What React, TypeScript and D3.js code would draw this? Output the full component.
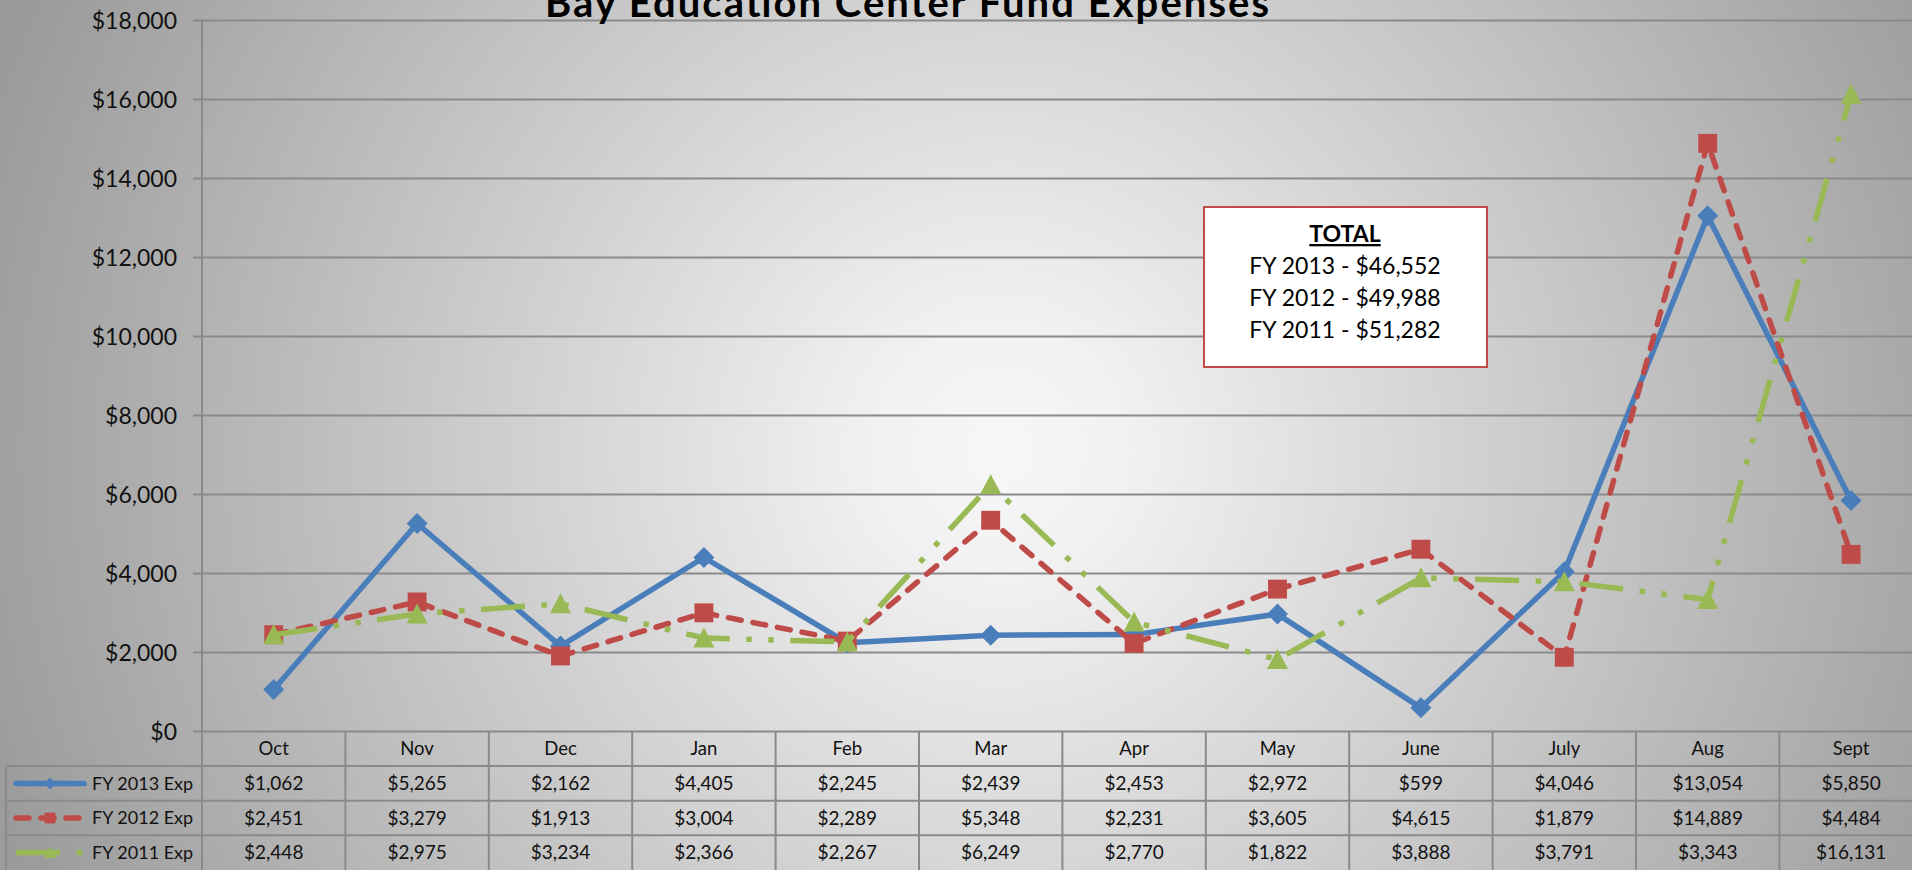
import React from 'react';
import * as d3 from 'd3';

// chart values
const months = ['Oct', 'Nov', 'Dec', 'Jan', 'Feb', 'Mar', 'Apr', 'May', 'June', 'July', 'Aug', 'Sept'];
const fy2013 = [1062, 5265, 2162, 4405, 2245, 2439, 2453, 2972, 599, 4046, 13054, 5850];
const fy2012 = [2451, 3279, 1913, 3004, 2289, 5348, 2231, 3605, 4615, 1879, 14889, 4484];
const fy2011 = [2448, 2975, 3234, 2366, 2267, 6249, 2770, 1822, 3888, 3791, 3343, 16131];
const yTicks = [0, 2000, 4000, 6000, 8000, 10000, 12000, 14000, 16000, 18000];
const totals = ['FY 2013 - $46,552', 'FY 2012 - $49,988', 'FY 2011 - $51,282'];

const title = 'Bay Education Center Fund Expenses';

const W = 1912;
const H = 870;
const font = 'Lato, "Open Sans", sans-serif';
const gridColor = '#8a8a8a';

type Marker = 'diamond' | 'square' | 'triangle';

const series = [
  { name: 'FY 2013 Exp', values: fy2013, color: '#4a7ebb', dash: 'none', cap: 'round', marker: 'diamond' as Marker },
  { name: 'FY 2012 Exp', values: fy2012, color: '#be4b48', dash: '13 12', cap: 'round', marker: 'square' as Marker },
  { name: 'FY 2011 Exp', values: fy2011, color: '#98b954', dash: '44 16.5 5.5 16.5 5.5 16.5', cap: 'butt', marker: 'triangle' as Marker },
];

function markerPath(kind: Marker, s: number) {
  const h = s / 2;
  if (kind === 'diamond') return `M0,${-h}L${h},0L0,${h}L${-h},0Z`;
  if (kind === 'square') return `M${-h * 0.9},${-h * 0.9}h${s * 0.9}v${s * 0.9}h${-s * 0.9}Z`;
  return `M0,${-h}L${h},${h * 0.9}L${-h},${h * 0.9}Z`;
}

const App: React.FC = () => {
  const left = 202;
  const bw = 143.4;
  const top = 20.5;
  const bottom = 731.5;
  const rowH = 34.6;

  const x = d3.scaleBand<string>().domain(months).range([left, left + bw * months.length]).padding(0);
  const y = d3.scaleLinear().domain([0, 18000]).range([bottom, top]);
  const cx = (m: string) => (x(m) as number) + x.bandwidth() / 2;
  const fmt = d3.format('$,.0f');

  const line = d3
    .line<number>()
    .x((_, i) => cx(months[i]))
    .y((d) => y(d));

  const rows = series.map((s, i) => bottom + rowH * (i + 1));

  return (
    <svg width={W} height={H} style={{ position: 'absolute', left: 0, top: 0 }} fontFamily={font}>
      <defs>
        <radialGradient id="bg" gradientUnits="userSpaceOnUse" cx={1000} cy={450} r={1060}>
          <stop offset="0" stopColor="#f7f7f7" />
          <stop offset="0.12" stopColor="#f1f1f1" />
          <stop offset="1" stopColor="#9b9b9b" />
        </radialGradient>
      </defs>
      <rect x={0} y={0} width={W} height={H} fill="url(#bg)" />

      {/* gridlines + y labels */}
      {yTicks.map((t) => (
        <g key={t}>
          <line x1={left - 9} x2={W} y1={y(t)} y2={y(t)} stroke={gridColor} strokeWidth={2} />
          <text x={177} y={y(t)} dy="0.36em" textAnchor="end" fontSize={23} fill="#111">
            {fmt(t)}
          </text>
        </g>
      ))}
      <line x1={left} x2={left} y1={top - 1} y2={H} stroke={gridColor} strokeWidth={2} />

      {/* data table grid */}
      {months.map((m) => (
        <line key={m} x1={x(m)! + bw} x2={x(m)! + bw} y1={bottom} y2={H} stroke={gridColor} strokeWidth={2} />
      ))}
      {rows.map((ry, i) => (
        <line key={i} x1={6} x2={W} y1={ry} y2={ry} stroke={gridColor} strokeWidth={2} />
      ))}
      <line x1={6} x2={6} y1={rows[0]} y2={H} stroke={gridColor} strokeWidth={2} />

      {/* category header */}
      {months.map((m) => (
        <text key={m} x={cx(m)} y={bottom + rowH / 2} dy="0.36em" textAnchor="middle" fontSize={18.5} fill="#111">
          {m}
        </text>
      ))}

      {/* table rows */}
      {series.map((s, si) => {
        const ry = rows[si] + rowH / 2;
        return (
          <g key={s.name}>
            <line
              x1={16}
              x2={84}
              y1={ry}
              y2={ry}
              stroke={s.color}
              strokeWidth={5.5}
              strokeDasharray={s.dash}
              strokeLinecap={s.cap as any}
            />
            <path d={markerPath(s.marker, 12)} transform={`translate(50,${ry})`} fill={s.color} />
            <text x={92} y={ry} dy="0.36em" fontSize={18} fill="#111">
              {s.name}
            </text>
            {s.values.map((v, i) => (
              <text key={i} x={cx(months[i])} y={ry} dy="0.36em" textAnchor="middle" fontSize={19} fill="#111">
                {fmt(v)}
              </text>
            ))}
          </g>
        );
      })}

      {/* lines and markers */}
      {series.map((s) => (
        <g key={s.name}>
          <path
            d={line(s.values) || ''}
            fill="none"
            stroke={s.color}
            strokeWidth={5.5}
            strokeDasharray={s.dash}
            strokeLinecap={s.cap as any}
            strokeLinejoin="round"
          />
          {s.values.map((v, i) => (
            <path key={i} d={markerPath(s.marker, 21)} transform={`translate(${cx(months[i])},${y(v)})`} fill={s.color} />
          ))}
        </g>
      ))}

      {/* title, cut off at the top as in the original */}
      <text x={907} y={17} textAnchor="middle" fontSize={40} fontWeight="bold" fill="#000" textLength={724}>
        {title}
      </text>

      {/* totals box */}
      <rect x={1204} y={207} width={283} height={160} fill="#fff" stroke="#be4b48" strokeWidth={2} />
      <text x={1345} y={242} textAnchor="middle" fontSize={23} fontWeight="bold" fill="#000" textDecoration="underline">
        TOTAL
      </text>
      {totals.map((t, i) => (
        <text key={t} x={1345} y={274 + i * 32} textAnchor="middle" fontSize={23} fill="#000">
          {t}
        </text>
      ))}
    </svg>
  );
};

export default App;
